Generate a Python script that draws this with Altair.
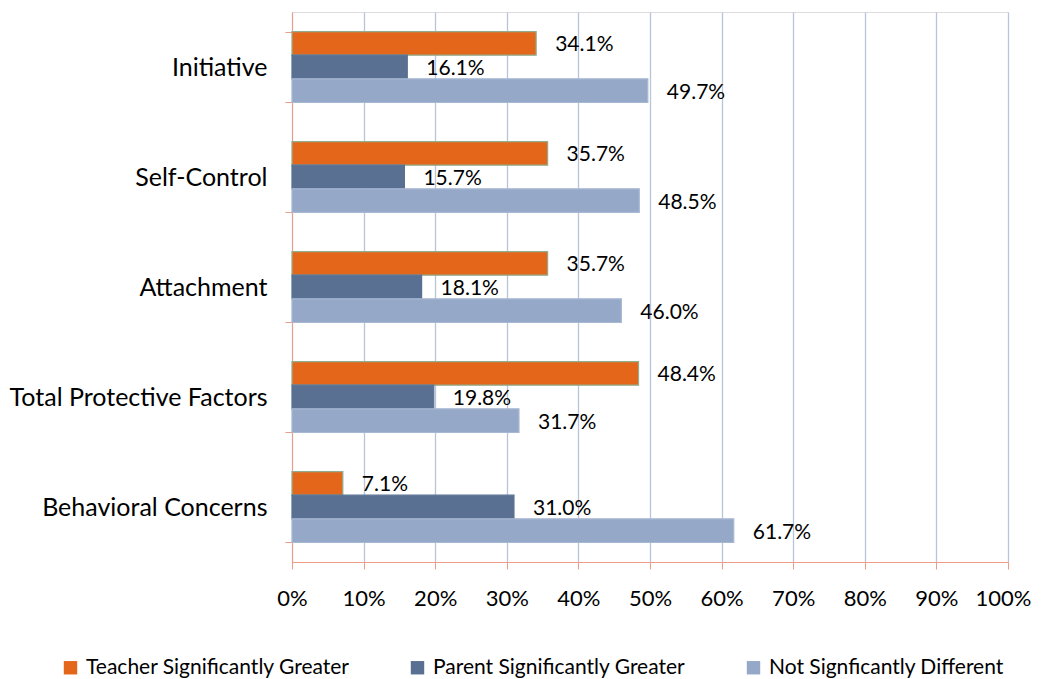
import altair as alt
import pandas as pd

categories = ["Initiative", "Self-Control", "Attachment", "Total Protective Factors", "Behavioral Concerns"]
series = ["Teacher Significantly Greater", "Parent Significantly Greater", "Not Signficantly Different"]
teacher = [34.1, 35.7, 35.7, 48.4, 7.1]
parent = [16.1, 15.7, 18.1, 19.8, 31.0]
notsig = [49.7, 48.5, 46.0, 31.7, 61.7]
colors = ["#E4661B", "#5A7092", "#95A8C8"]
strokes = ["#8FAE8E", "#5A7092", "#A7B8D3"]
x_ticks = [0, 0.1, 0.2, 0.3, 0.4, 0.5, 0.6, 0.7, 0.8, 0.9, 1.0]

rows = []
for i, c in enumerate(categories):
    for s, vals in zip(series, [teacher, parent, notsig]):
        rows.append({"cat": c, "series": s, "value": vals[i] / 100, "label": f"{vals[i]:.1f}%"})
df = pd.DataFrame(rows)

FONT = "Lato"
axis_col = "#EE9C86"

y_enc = alt.Y("cat:N", sort=categories, title=None,
              scale=alt.Scale(paddingInner=0.355, paddingOuter=0.1775),
              axis=alt.Axis(tickBand="extent", domainColor=axis_col, tickColor=axis_col,
                            tickSize=7, labelFontSize=25, labelColor="#000000",
                            labelPadding=18, labelFont=FONT, grid=False, labelLimit=400))
yoff = alt.YOffset("series:N", sort=series, scale=alt.Scale(paddingInner=0, paddingOuter=0))

bars = alt.Chart(df).mark_bar(strokeWidth=1.2).encode(
    x=alt.X("value:Q", scale=alt.Scale(domain=[0, 1], nice=False), title=None,
            axis=alt.Axis(values=x_ticks, format=".0%", domainColor=axis_col, tickColor=axis_col,
                          tickSize=7, labelFontSize=22, labelColor="#000000", labelPadding=19,
                          labelOverlap=False, labelFlush=False,
                          labelOffset=alt.condition("datum.value == 1", alt.value(-5), alt.value(0)),
                          labelFont=FONT, grid=True, gridColor="#B8C4D7", gridWidth=1.3)),
    y=y_enc,
    yOffset=yoff,
    color=alt.Color("series:N", sort=series, title=None,
                    scale=alt.Scale(domain=series, range=colors),
                    legend=alt.Legend(orient="none", direction="horizontal", legendX=-232, legendY=645,
                                      symbolType="square", symbolSize=180, symbolStrokeWidth=0,
                                      labelFontSize=21, labelFont=FONT, labelColor="#000000",
                                      columnPadding=57, labelOffset=5, labelLimit=400)),
    stroke=alt.Stroke("series:N", sort=series, scale=alt.Scale(domain=series, range=strokes), legend=None),
)

texts = alt.Chart(df).mark_text(align="left", baseline="middle", dx=19, dy=2, fontSize=21, font=FONT, color="#000000").encode(
    x="value:Q",
    y=alt.Y("cat:N", sort=categories),
    yOffset=yoff,
    text="label:N",
)

chart = (bars + texts).properties(
    width=716, height=550,
    autosize=alt.AutoSizeParams(type="none"),
    padding={"left": 284, "top": 4, "right": 25, "bottom": 120},
).configure_view(stroke=None).configure(background="white")

chart.save("out.html", embed_options={"renderer": "svg", "actions": False})
